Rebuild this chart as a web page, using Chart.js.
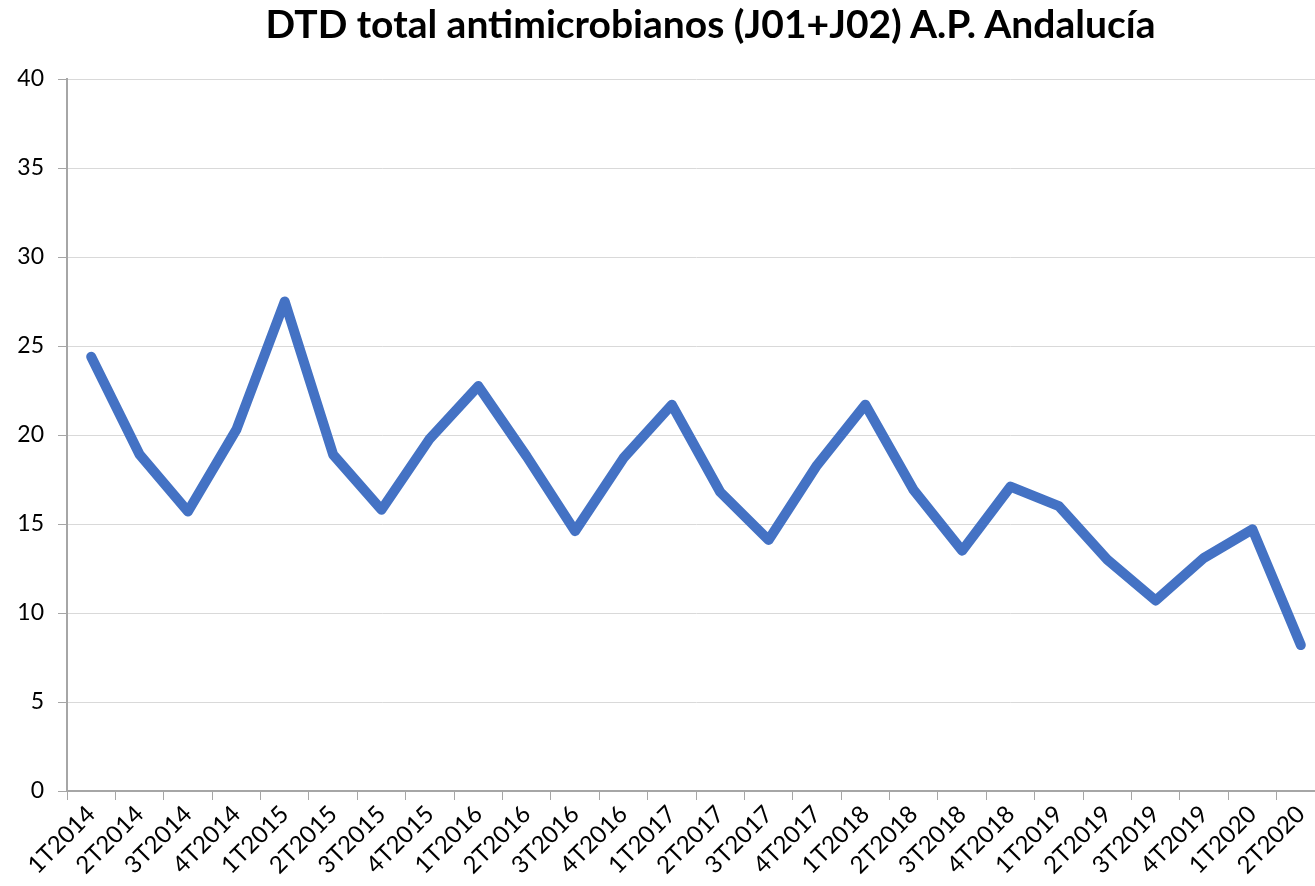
<!DOCTYPE html>
<html>
<head>
<meta charset="utf-8">
<script src="https://cdn.jsdelivr.net/npm/chart.js@4.4.0/dist/chart.umd.min.js"></script>
<style>
    html, body { margin: 0; padding: 0; background: #fff; overflow: hidden; }
    #wrap { position: relative; width: 1325px; height: 886px; }
    #titulo {
        position: absolute; left: 0; top: 0px; width: 1421px; text-align: center;
        font-family: Lato, 'Open Sans', sans-serif; font-weight: bold; font-size: 39px; color: #000;
        margin: 0;
    }
</style>
</head>
<body>
<div id="wrap">
    <canvas id="grafico" width="1325" height="886"></canvas>
    <h1 id="titulo">DTD total antimicrobianos (J01+J02) A.P. Andalucía</h1>
</div>
<script>
// trimestres
const trimestres = [
    '1T2014', '2T2014', '3T2014', '4T2014',
    '1T2015', '2T2015', '3T2015', '4T2015',
    '1T2016', '2T2016', '3T2016', '4T2016',
    '1T2017', '2T2017', '3T2017', '4T2017',
    '1T2018', '2T2018', '3T2018', '4T2018',
    '1T2019', '2T2019', '3T2019', '4T2019',
    '1T2020', '2T2020',
];

// DTD total
const dtdTotal = [
    24.4, 18.9, 15.7, 20.3,
    27.5, 18.9, 15.8, 19.8,
    22.75, 18.8, 14.6, 18.7,
    21.7, 16.8, 14.1, 18.3,
    21.7, 16.9, 13.5, 17.1,
    16.0, 13.0, 10.7, 13.1,
    14.7, 8.2,
];

const ticksY = [0, 5, 10, 15, 20, 25, 30, 35, 40];

const fonteEixoY = { family: "Lato, 'Open Sans', sans-serif", size: 23 };
const fonteEixoX = { family: "Lato, 'Open Sans', sans-serif", size: 24 };

const ctx = document.getElementById('grafico').getContext('2d');

new Chart(ctx, {
    type: 'line',
    data: {
        labels: trimestres,
        datasets: [{
            label: 'DTD total',
            data: dtdTotal,
            borderColor: '#4472C4',
            borderWidth: 10,
            borderCapStyle: 'round',
            borderJoinStyle: 'round',
            pointRadius: 0,
            tension: 0,
            fill: false,
        }],
    },
    options: {
        responsive: false,
        animation: false,
        layout: { padding: { top: 79, right: 0, left: 0, bottom: 0 } },
        plugins: {
            legend: { display: false },
            tooltip: { enabled: false },
        },
        scales: {
            x: {
                offset: true,
                grid: {
                    offset: true,
                    drawOnChartArea: false,
                    drawTicks: true,
                    tickLength: 9,
                    tickColor: '#a6a6a6',
                },
                border: { color: '#a6a6a6', width: 2 },
                ticks: {
                    color: '#000',
                    font: fonteEixoX,
                    minRotation: 45,
                    maxRotation: 45,
                    autoSkip: false,
                    padding: 0,
                },
                afterFit: (scale) => { scale.height = 95; },
            },
            y: {
                min: 0,
                max: 40,
                afterBuildTicks: (scale) => {
                    scale.ticks = ticksY.map((v) => ({ value: v }));
                },
                grid: {
                    color: '#d9d9d9',
                    lineWidth: 1,
                    tickLength: 9,
                    tickColor: '#a6a6a6',
                },
                border: { color: '#a6a6a6', width: 2 },
                ticks: {
                    color: '#000',
                    font: fonteEixoY,
                    padding: 14,
                },
                afterFit: (scale) => { scale.width = 67; },
            },
        },
    },
});
</script>
</body>
</html>
